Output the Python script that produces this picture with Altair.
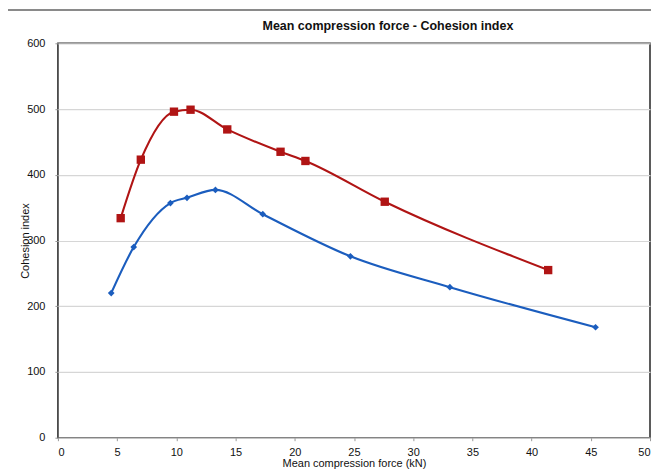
import altair as alt
import pandas as pd

red_x = [5.3, 7.0, 9.8, 11.2, 14.3, 18.8, 20.9, 27.6, 41.4]
red_y = [334, 423, 496, 499, 469, 435, 421, 359, 255]
blue_x = [4.5, 6.4, 9.5, 10.9, 13.3, 17.3, 24.7, 33.1, 45.4]
blue_y = [220, 290, 357, 365, 377, 340, 276, 229, 168]

df = pd.DataFrame(
    {"series": ["red"] * len(red_x) + ["blue"] * len(blue_x),
     "x": red_x + blue_x,
     "y": red_y + blue_y}
)

FONT = "Liberation Sans"
color = alt.Color("series:N", scale=alt.Scale(domain=["red", "blue"], range=["#B01414", "#1B5DBE"]), legend=None)

xenc = alt.X("x:Q", scale=alt.Scale(domain=[0, 50]),
             axis=alt.Axis(title="Mean compression force (kN)", values=list(range(0, 51, 5)),
                           grid=False, domain=False, tickSize=3, tickColor="#999",
                           labelPadding=6, titlePadding=0, labelFontSize=11, titleFontSize=11,
                           labelFont=FONT, titleFont=FONT, labelColor="#111", titleColor="#111",
                           titleFontWeight="normal"))
yenc = alt.Y("y:Q", scale=alt.Scale(domain=[0, 600]),
             axis=alt.Axis(title="Cohesion index", values=list(range(0, 601, 100)),
                           grid=True, gridColor="#d6d6d6", gridWidth=1.2, domain=False,
                           tickSize=3, tickColor="#999", labelPadding=10,
                           titlePadding=-4, labelFontSize=11, titleFontSize=11,
                           labelFont=FONT, titleFont=FONT, labelColor="#111", titleColor="#111",
                           titleFontWeight="normal"))

frame = alt.Chart(df).mark_rect(fill=None, stroke="#8a8a8a", strokeWidth=1.5).encode(
    x=alt.value(-51), x2=alt.value(800), y=alt.value(-33), y2=alt.value(600)
)

lines = alt.Chart(df).mark_line(interpolate="monotone", strokeWidth=2.1).encode(
    x=xenc, y=yenc, color=color, detail="series:N"
)

red_pts = alt.Chart(df).transform_filter(alt.datum.series == "red").mark_point(
    shape="square", filled=True, size=70, opacity=1
).encode(x="x:Q", y="y:Q", color=color)

blue_pts = alt.Chart(df).transform_filter(alt.datum.series == "blue").mark_point(
    shape="diamond", filled=True, size=45, opacity=1
).encode(x="x:Q", y="y:Q", color=color)

chart = alt.layer(frame, lines, red_pts, blue_pts).properties(
    width=593, height=395,
    title=alt.TitleParams("Mean compression force - Cohesion index", font=FONT, fontSize=12.5,
                          fontWeight="bold", color="#111", dx=34, offset=-23),
    autosize=alt.AutoSizeParams(type="none"),
    padding={"left": 50, "top": 35, "right": 1, "bottom": 40},
    background="white",
).configure_view(stroke="#333", strokeWidth=1.6)

chart.save("out.html", embed_options={"renderer": "svg", "actions": False})
